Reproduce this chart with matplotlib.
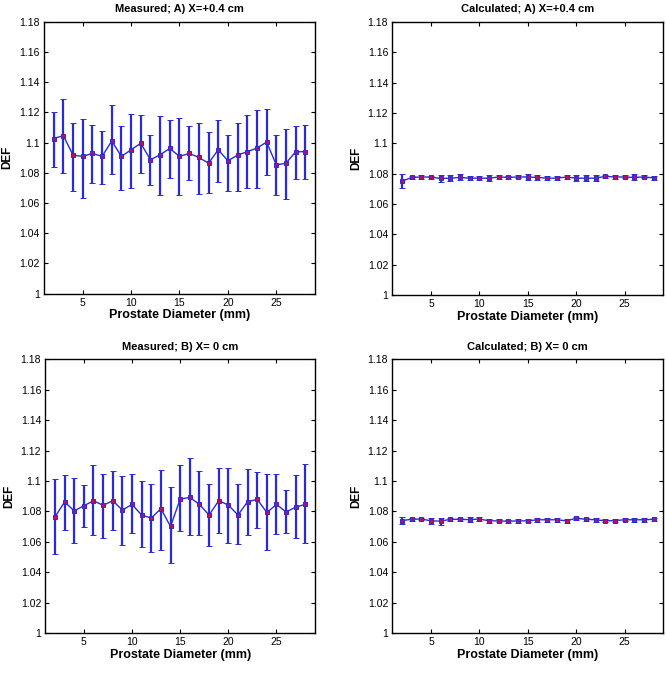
import numpy as np
import matplotlib
matplotlib.use('Agg')
import matplotlib.pyplot as plt

plt.rcParams['font.family'] = ['Liberation Sans', 'DejaVu Sans']

diam = [2, 3, 4, 5, 6, 7, 8, 9, 10, 11, 12, 13, 14, 15, 16, 17, 18, 19, 20, 21, 22, 23, 24, 25, 26, 27, 28]

# Measured, A) X=+0.4 cm
meas_a = [1.1027, 1.1047, 1.0918, 1.0909, 1.0929, 1.0909, 1.1011, 1.0909, 1.0953, 1.0996, 1.0887, 1.0920, 1.0962, 1.0909,
          1.0929, 1.0902, 1.0864, 1.0953, 1.0880, 1.0918, 1.0940, 1.0964, 1.1004, 1.0853, 1.0864, 1.0940, 1.0940]
meas_a_hi = [1.1202, 1.1289, 1.1127, 1.1160, 1.1120, 1.1078, 1.1249, 1.1111, 1.1187, 1.1184, 1.1053, 1.1178, 1.1153, 1.1162,
             1.1111, 1.1129, 1.1071, 1.1147, 1.1053, 1.1129, 1.1184, 1.1218, 1.1224, 1.1053, 1.1091, 1.1113, 1.1120]
meas_a_lo = [1.0840, 1.0796, 1.0682, 1.0633, 1.0731, 1.0724, 1.0791, 1.0687, 1.0700, 1.0800, 1.0720, 1.0651, 1.0767, 1.0656,
             1.0756, 1.0662, 1.0669, 1.0742, 1.0680, 1.0682, 1.0700, 1.0700, 1.0784, 1.0656, 1.0624, 1.0760, 1.0760]

# Calculated, A) X=+0.4 cm
calc_a = [1.0750, 1.0775, 1.0778, 1.0777, 1.0768, 1.0770, 1.0775, 1.0770, 1.0770, 1.0770, 1.0778, 1.0775, 1.0778, 1.0778,
          1.0775, 1.0770, 1.0770, 1.0778, 1.0770, 1.0770, 1.0770, 1.0782, 1.0778, 1.0778, 1.0775, 1.0778, 1.0772]
calc_a_err = [0.0045, 0.0012, 0.0015, 0.0010, 0.0022, 0.0020, 0.0020, 0.0015, 0.0015, 0.0020, 0.0012, 0.0012, 0.0010, 0.0022,
              0.0015, 0.0015, 0.0015, 0.0012, 0.0018, 0.0020, 0.0020, 0.0010, 0.0012, 0.0010, 0.0020, 0.0010, 0.0015]

# Measured, B) X=0 cm
meas_b = [1.0763, 1.0862, 1.0804, 1.0837, 1.0870, 1.0840, 1.0870, 1.0809, 1.0846, 1.0776, 1.0756, 1.0818, 1.0701, 1.0881,
          1.0892, 1.0846, 1.0776, 1.0870, 1.0842, 1.0776, 1.0864, 1.0879, 1.0793, 1.0846, 1.0796, 1.0829, 1.0846]
meas_b_hi = [1.1013, 1.1038, 1.1018, 1.0974, 1.1106, 1.1046, 1.1064, 1.1031, 1.1046, 1.0998, 1.0980, 1.1073, 1.0958, 1.1104,
             1.1152, 1.1064, 1.0980, 1.1086, 1.1086, 1.0980, 1.1079, 1.1062, 1.1046, 1.1046, 1.0941, 1.1040, 1.1110]
meas_b_lo = [1.0520, 1.0679, 1.0591, 1.0699, 1.0642, 1.0624, 1.0677, 1.0582, 1.0655, 1.0565, 1.0534, 1.0549, 1.0461, 1.0670,
             1.0644, 1.0642, 1.0571, 1.0655, 1.0593, 1.0587, 1.0642, 1.0690, 1.0545, 1.0653, 1.0657, 1.0626, 1.0593]

# Calculated, B) X=0 cm
calc_b = [1.0740, 1.0748, 1.0750, 1.0738, 1.0736, 1.0748, 1.0748, 1.0746, 1.0750, 1.0738, 1.0738, 1.0735, 1.0738, 1.0738,
          1.0745, 1.0745, 1.0745, 1.0738, 1.0755, 1.0748, 1.0745, 1.0738, 1.0740, 1.0745, 1.0745, 1.0745, 1.0748]
calc_b_err = [0.0022, 0.0012, 0.0008, 0.0022, 0.0022, 0.0012, 0.0012, 0.0015, 0.0015, 0.0012, 0.0010, 0.0008, 0.0012, 0.0010,
              0.0012, 0.0012, 0.0012, 0.0012, 0.0010, 0.0012, 0.0015, 0.0010, 0.0008, 0.0010, 0.0012, 0.0015, 0.0012]

titles = ['Measured; A) X=+0.4 cm', 'Calculated; A) X=+0.4 cm', 'Measured; B) X= 0 cm', 'Calculated; B) X= 0 cm']
yticks = [1, 1.02, 1.04, 1.06, 1.08, 1.1, 1.12, 1.14, 1.16, 1.18]
ytick_labels = ['1', '1.02', '1.04', '1.06', '1.08', '1.1', '1.12', '1.14', '1.16', '1.18']
xticks = [5, 10, 15, 20, 25]

def asym(v, lo, hi):
    v = np.array(v); return [v - np.array(lo), np.array(hi) - v]

series = [(meas_a, asym(meas_a, meas_a_lo, meas_a_hi)), (calc_a, calc_a_err),
          (meas_b, asym(meas_b, meas_b_lo, meas_b_hi)), (calc_b, calc_b_err)]
positions = [[0.066, 0.570, 0.407, 0.398], [0.589, 0.568, 0.407, 0.400],
             [0.068, 0.073, 0.405, 0.401], [0.589, 0.073, 0.407, 0.401]]

fig = plt.figure(figsize=(6.66, 6.83), dpi=100)
blue = '#2a2ad8'
for pos, title, (vals, err) in zip(positions, titles, series):
    ax = fig.add_axes(pos)
    ax.errorbar(diam, vals, yerr=err, color=blue, lw=1.0, elinewidth=1.6, capsize=2.5, capthick=1.4,
                marker='s', ms=3.0, mfc='#b0106a', mec=blue, mew=0.7)
    ax.set_xlim(1, 29); ax.set_ylim(1, 1.18)
    ax.set_xticks(xticks); ax.set_yticks(yticks); ax.set_yticklabels(ytick_labels)
    ax.tick_params(direction='in', length=3, labelsize=7.5, top=True, right=True, pad=3, width=0.8)
    for s in ax.spines.values(): s.set_linewidth(1.0)
    ax.set_title(title, fontsize=8, fontweight='bold', pad=7)
    ax.set_xlabel('Prostate Diameter (mm)', fontsize=9, fontweight='bold', labelpad=1)
    ax.set_ylabel('DEF', fontsize=8.5, fontweight='bold', labelpad=4)
fig.savefig('out.png', dpi=100)
